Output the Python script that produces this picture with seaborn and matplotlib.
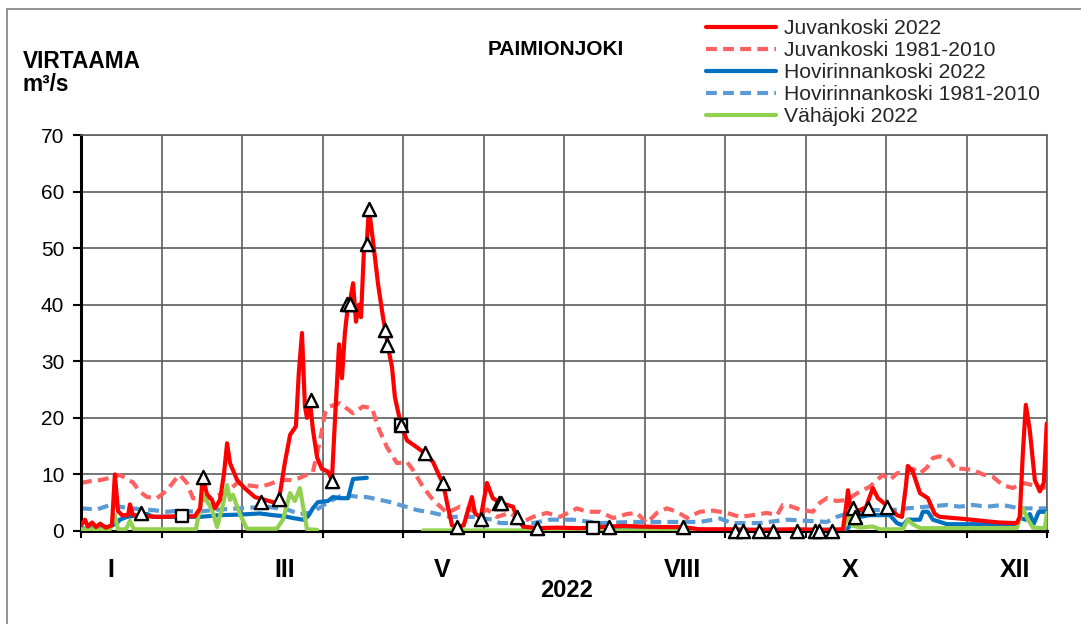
import numpy as np
import pandas as pd
import matplotlib
matplotlib.use("Agg")
import matplotlib.pyplot as plt
import matplotlib.transforms as mtransforms
from matplotlib.lines import Line2D
from matplotlib.patches import Rectangle
import seaborn as sns

# ---------------- data (day of year 0..365, flow m3/s) ----------------
juv_2022 = [(0, 1.0), (1.5, 2.0), (2.6, 0.8), (4.2, 1.5), (5.7, 0.7), (7.2, 1.3), (9.4, 0.6), (11.7, 1.0),
            (12.8, 10.0), (14, 3.5), (15.5, 2.8), (17.8, 2.8), (18.5, 4.7), (19.6, 2.8), (24, 2.6), (30, 2.5),
            (37, 2.6), (43, 2.6), (45, 4.0), (46, 9.5), (47.6, 6.5), (49.5, 5.5), (50.6, 4.0), (52.5, 5.5),
            (54, 10.0), (55.2, 15.5), (56.3, 12.0), (59, 9.0), (62, 7.5), (65.7, 6.0), (69.5, 5.5), (73.3, 5.0),
            (74.8, 5.5), (77, 12.0), (79, 17.0), (81.2, 18.5), (82.3, 28.0), (83.5, 35.0), (84.6, 22.0),
            (85.4, 20.0), (86.5, 23.0), (87.6, 18.0), (89.2, 13.0), (91, 11.0), (93.3, 10.5), (94.8, 9.0),
            (96, 20.0), (97.5, 33.0), (98.6, 27.0), (99.7, 35.0), (100.9, 40.0), (101.6, 40.5), (102.8, 43.8),
            (103.9, 37.0), (105, 40.0), (105.8, 37.8), (106.9, 49.6), (108, 51.0), (108.8, 57.0), (110.3, 51.4),
            (112.2, 43.8), (114.1, 37.8), (115.2, 35.0), (116, 32.5), (117.5, 29.0), (118.6, 23.7),
            (120.9, 18.7), (123.2, 16.0), (126.9, 14.8), (130, 13.7), (133, 12.2), (135.6, 9.5), (136.8, 8.5),
            (138.6, 4.3), (140.2, 1.0), (142, 0.7), (144.6, 1.0), (147.7, 6.0), (148.8, 3.2), (151, 2.3),
            (153.4, 8.5), (155.6, 5.8), (158.3, 5.0), (163.2, 4.3), (164.7, 2.5), (167, 0.8), (172.3, 0.5),
            (180, 0.6), (188, 0.5), (193.4, 0.6), (199.5, 0.8), (205, 0.9), (211, 0.8), (220, 0.7),
            (227.4, 0.7), (233.8, 0.3), (245, 0.3), (255, 0.2), (270, 0.3), (280, 0.2), (287.9, 0.3),
            (289, 4.0), (289.8, 7.2), (291, 3.2), (292.4, 3.5), (294.3, 3.7), (296.6, 4.2), (299.2, 7.6),
            (301.1, 5.8), (304.5, 4.5), (308.3, 2.8), (310.2, 2.5), (311.7, 8.0), (312.4, 11.5), (314.3, 10.5),
            (317, 6.7), (320, 5.8), (322.6, 3.0), (324.5, 2.5), (332, 2.2), (347, 1.5), (353.6, 1.4),
            (354.7, 2.5), (355.9, 14.0), (357, 22.3), (358.5, 17.8), (360.4, 9.0), (362.3, 7.0), (363.8, 8.5),
            (364.9, 19.0)]

juv_norm = [(0, 8.5), (3.4, 8.8), (7.2, 9.0), (12, 9.5), (14.7, 9.9), (17.4, 9.2), (19.6, 8.6), (22.3, 6.9),
            (25, 6.0), (28.7, 5.8), (32.5, 7.2), (36.3, 9.5), (37.4, 9.9), (40, 8.5), (42.3, 5.8), (46, 5.5),
            (49.9, 6.0), (55.2, 6.9), (59, 8.5), (62.7, 8.1), (67.6, 7.8), (71.4, 8.3), (75.2, 9.0), (80.1, 9.0),
            (82.7, 9.4), (87.6, 10.4), (90.3, 16.0), (92.2, 20.8), (94, 22.0), (97.8, 22.6), (102.8, 20.8),
            (106.5, 22.0), (110, 21.7), (112.2, 18.4), (115.6, 14.8), (119.4, 12.0), (123.2, 12.2),
            (125.4, 10.8), (129.2, 7.8), (133, 5.5), (138.3, 3.2), (143.2, 4.3), (147, 3.8), (150.7, 3.0),
            (153.4, 3.8), (157.2, 2.5), (162, 3.2), (167, 1.6), (170.8, 2.5), (176, 3.2), (181, 2.5),
            (187.4, 4.0), (191.2, 3.4), (196, 3.4), (201, 2.3), (206.3, 3.0), (210, 3.2), (213.8, 1.4),
            (217.6, 3.2), (221.4, 4.0), (225.2, 3.4), (229, 2.3), (233.8, 3.4), (238.8, 3.6), (244, 3.2),
            (249, 2.5), (253.9, 2.8), (259.2, 3.2), (263, 2.8), (265.2, 4.6), (267.9, 4.4), (271.6, 3.8),
            (276.5, 3.4), (279.2, 5.0), (281.8, 5.8), (285.6, 5.3), (289.4, 5.5), (294.3, 7.0), (298, 7.8),
            (300.7, 9.0), (303, 9.9), (305.6, 9.0), (308.3, 10.2), (312, 10.4), (314.3, 11.0), (317, 10.2),
            (319.6, 11.2), (321.9, 12.9), (324.5, 13.2), (328.3, 12.5), (330.2, 11.0), (333.2, 11.0),
            (337, 10.8), (340.8, 10.0), (344.5, 9.6), (348.3, 8.1), (352.1, 7.6), (355.9, 8.5), (359.7, 8.1),
            (363.4, 7.6), (365, 7.8)]

hov_2022_a = [(0, 0.4), (7.2, 0.5), (11, 0.8), (13.6, 1.4), (14.7, 2.0), (17.4, 2.5), (25, 3.0), (27.2, 2.5),
              (45, 2.5), (52.5, 2.8), (60, 2.9), (67.6, 3.1), (72.5, 2.8), (77, 2.6), (80, 2.3), (83.9, 2.0),
              (85.8, 2.6), (87.6, 4.0), (89.5, 5.1), (93.3, 5.3), (95.2, 6.0), (97.8, 5.8), (100.9, 5.8),
              (102.8, 9.2), (108, 9.4)]
hov_2022_b = [(167, 0.3), (200, 0.3), (240, 0.2), (288, 0.2), (289.8, 0.5), (292.4, 2.0), (294.3, 2.5),
              (298, 2.8), (305.6, 2.8), (308.3, 1.4), (310.5, 1.0), (312.4, 2.0), (317, 2.0), (318.1, 3.4),
              (320, 3.4), (321.9, 2.0), (327.2, 1.2), (353.6, 1.2), (354.7, 2.3), (357, 2.0), (358.5, 3.0),
              (360, 1.3), (361.9, 3.4), (365, 3.4)]

hov_norm = [(0, 4.0), (6, 3.8), (11, 4.6), (18.5, 4.0), (25, 3.8), (32.5, 3.4), (37.4, 3.6), (43.8, 3.4),
            (52.5, 3.8), (60, 4.0), (70.3, 4.3), (77.8, 3.8), (82.7, 3.0), (87.6, 3.3), (93, 5.0), (99, 6.4),
            (105.4, 6.0), (108, 6.0), (113, 5.5), (117.9, 5.0), (120.5, 4.6), (127, 3.7), (133, 3.2),
            (139.4, 2.5), (148, 2.5), (155.6, 2.0), (158.3, 1.4), (170.8, 1.4), (177.2, 2.0), (185.9, 2.0),
            (196, 1.4), (208.5, 1.6), (221.4, 1.6), (233.8, 1.6), (241.4, 2.2), (246, 1.4), (256.5, 1.4),
            (266.7, 2.0), (281.8, 1.6), (285.6, 2.5), (291.6, 3.4), (298, 3.7), (306.8, 3.7), (312, 4.0),
            (319.6, 4.3), (327.2, 4.6), (332, 4.3), (337, 4.6), (342.3, 4.3), (348.3, 4.6), (354.7, 4.0),
            (365, 4.0)]

vah_2022_a = [(0, 0.3), (11, 0.3), (12.8, 2.8), (14, 0.3), (17, 0.3), (18.5, 1.8), (20, 0.3), (43.4, 0.3),
              (46, 6.4), (49.5, 3.8), (51.4, 0.7), (53.3, 4.0), (55.2, 8.1), (56.3, 5.5), (57.4, 6.4),
              (60, 3.0), (62.7, 0.4), (74, 0.4), (76.3, 2.0), (79, 6.7), (80.8, 5.3), (82.7, 7.6),
              (85.4, 0.3), (89.2, 0.2)]
vah_2022_b = [(129.2, 0.1), (287.9, 0.1), (289.8, 2.8), (291.3, 1.0), (294.3, 0.6), (299.2, 0.8),
              (301.8, 0.3), (310.5, 0.3), (312.4, 2.0), (314.3, 1.2), (317, 0.5), (353.6, 0.5), (355.9, 4.0),
              (357.8, 2.0), (359.7, 0.6), (364.2, 0.5), (365, 3.2)]

triangles = [(22.7, 3.2), (46, 9.6), (68, 5.2), (74.8, 5.6), (86.9, 23.2), (94.8, 8.8), (100.6, 40.2),
             (101.8, 40.2), (108, 50.8), (108.8, 57.0), (114.8, 35.5), (115.6, 32.9), (121, 18.7),
             (130, 13.8), (136.8, 8.5), (142, 0.7), (151, 2.1), (158, 5.0), (158.8, 5.0), (164.7, 2.5),
             (172.3, 0.5), (199.5, 0.7), (227.4, 0.7), (247, 0), (250, 0), (256, 0), (261.4, 0), (270.5, 0),
             (277.5, 0), (278.7, 0), (283.7, 0), (291.6, 4.0), (292.4, 2.5), (297.3, 4.0), (304.5, 4.3)]
squares = [(38.2, 2.6), (121, 18.7), (193.4, 0.5)]

series_labels = ["Juvankoski 2022", "Juvankoski 1981-2010", "Hovirinnankoski 2022",
                 "Hovirinnankoski 1981-2010", "Vähäjoki 2022"]
month_labels = ["I", "", "III", "", "V", "", "", "VIII", "", "X", "", "XII"]
y_ticks = [0, 10, 20, 30, 40, 50, 60, 70]

# ---------------- style ----------------
sns.set_theme(style="white")
plt.rcParams['font.family'] = ['Liberation Sans', 'DejaVu Sans']

RED = '#FF0000'
RED_L = '#FF6161'
BLUE = '#0070C0'
BLUE_L = '#5B9BD5'
GREEN = '#92D050'
LW = 3.0
DASH = (0, (2.6, 1.5))

fig = plt.figure(figsize=(10.81, 6.24), dpi=100)
ax = fig.add_axes([81 / 1081, 1 - 531 / 624, (1047 - 81) / 1081, (531 - 135) / 624])


def df_of(pairs):
    return pd.DataFrame(pairs, columns=['day', 'flow'])


def line(pairs, color, ls='-', z=2):
    sns.lineplot(data=df_of(pairs), x='day', y='flow', ax=ax, color=color, linewidth=LW,
                 linestyle=ls, estimator=None, errorbar=None, zorder=z)


line(juv_norm, RED_L, DASH, 2)
line(hov_norm, BLUE_L, DASH, 2)
line(hov_2022_a, BLUE, '-', 3)
line(hov_2022_b, BLUE, '-', 3)
line(vah_2022_a, GREEN, '-', 3.5)
line(vah_2022_b, GREEN, '-', 3.5)
line(juv_2022, RED, '-', 4)

sns.scatterplot(data=df_of(squares), x='day', y='flow', ax=ax, marker='s', s=64, color='white',
                edgecolor='black', linewidth=1.7, zorder=5, clip_on=False)
sns.scatterplot(data=df_of(triangles), x='day', y='flow', ax=ax, marker='^', s=90, color='white',
                edgecolor='black', linewidth=1.7, zorder=6, clip_on=False)

ax.set_xlim(0, 365)
ax.set_ylim(0, 70)
ax.set_xlabel('')
ax.set_ylabel('')

month_edges = np.arange(13) * 365 / 12
ax.set_xticks(month_edges)
ax.set_xticklabels([''] * 13)
ax.set_yticks(y_ticks)
ax.set_yticklabels([str(v) for v in y_ticks])
ax.grid(True, color='#5e5e5e', linewidth=1.2)
ax.set_axisbelow(True)

for s in ['top', 'right']:
    ax.spines[s].set_color('#5e5e5e')
    ax.spines[s].set_linewidth(1.2)
for s in ['left', 'bottom']:
    ax.spines[s].set_color('black')
    ax.spines[s].set_linewidth(2.2)

ax.tick_params(axis='y', which='major', left=True, direction='out', length=6, width=1.5,
               color='black', labelsize=15, pad=6, labelcolor='black')
ax.tick_params(axis='x', which='major', bottom=True, direction='out', length=5, width=1.5,
               color='black')

# label offsets (days) from the month centre, as placed in the original
label_shift = [-4, 0, 1, 0, -0.5, 0, 0, -1, 0, 1.5, 0, 3]
trans = mtransforms.blended_transform_factory(ax.transData, ax.transAxes)
for i, lab in enumerate(month_labels):
    if lab:
        ax.text((i + 0.5) * 365 / 12 + label_shift[i], -0.116, lab, transform=trans, ha='center',
                va='baseline', fontsize=18, fontweight='bold', color='black')
ax.text(0.503, -0.167, "2022", transform=ax.transAxes, ha='center', va='baseline',
        fontsize=17, fontweight='bold', color='black')

fig.text(23 / 1081, 1 - 68 / 624, "VIRTAAMA", ha='left', va='baseline', fontsize=16.3,
         fontweight='bold', color='black')
fig.text(23 / 1081, 1 - 91 / 624, "m³/s", ha='left', va='baseline', fontsize=16.3,
         fontweight='bold', color='black')
fig.text(556 / 1081, 1 - 55 / 624, "PAIMIONJOKI", ha='center', va='baseline', fontsize=15,
         fontweight='bold', color='black')

handles = [Line2D([], [], color=RED, lw=LW),
           Line2D([], [], color=RED_L, lw=LW, linestyle=DASH),
           Line2D([], [], color=BLUE, lw=LW),
           Line2D([], [], color=BLUE_L, lw=LW, linestyle=DASH),
           Line2D([], [], color=GREEN, lw=LW)]
fig.legend(handles, series_labels, loc='upper left', bbox_to_anchor=(706 / 1081, 1 - 19 / 624),
           bbox_transform=fig.transFigure, frameon=False, fontsize=15.2, handlelength=3.3,
           handletextpad=0.38, labelspacing=0.145, borderpad=0, borderaxespad=0)

fig.patches.append(Rectangle((7 / 1081, -0.1), 1.2, 1.1 - 9 / 624, transform=fig.transFigure,
                             fill=False, edgecolor='#808080', linewidth=1.2))

fig.savefig("out.png", dpi=100, facecolor='white')
